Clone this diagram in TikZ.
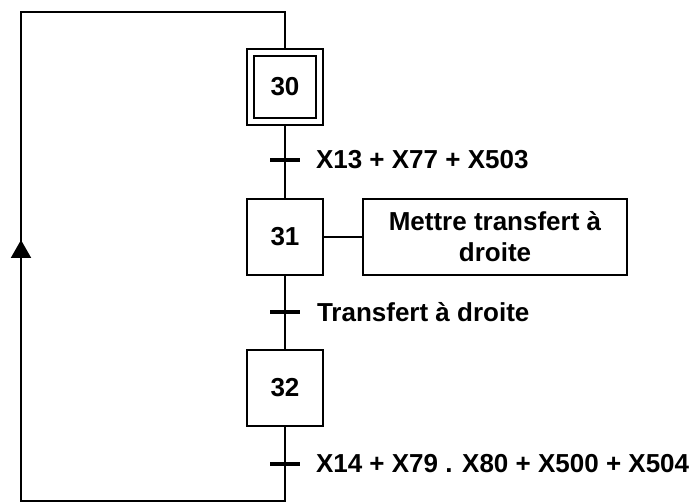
\documentclass[tikz,border=0pt]{standalone}
\usepackage{fontspec}
\setmainfont{Liberation Sans}
\usetikzlibrary{arrows.meta,positioning,calc}

\begin{document}
\begin{tikzpicture}[x=1pt,y=-1pt,line width=2pt,
    every node/.style={font=\fontsize{26}{31}\selectfont\bfseries},
    stepbox/.style={draw,rectangle,minimum width=76pt,minimum height=76pt,inner sep=0pt},
    initbox/.style={draw,rectangle,minimum width=62pt,minimum height=62pt,inner sep=0pt},
    actbox/.style={draw,rectangle,minimum width=264pt,minimum height=76pt,inner sep=0pt,align=center},
    trans/.style={fill=black,rectangle,minimum width=30pt,minimum height=4pt,inner sep=0pt},
    cond/.style={inner sep=0pt,anchor=west}]
  \useasboundingbox (0,0) rectangle (699,502);
  % steps
  \node[stepbox] (s30o) at (285,87) {};
  \node[initbox] (s30) at (s30o) {30};
  \node[stepbox] (s31) at (285,237) {31};
  \node[stepbox] (s32) at (285,388) {32};
  \node[actbox,right=38pt of s31] (a31) {Mettre transfert à\\droite};
  % transitions
  \node[trans] (t1) at (285,160) {};
  \node[trans] (t2) at (285,312) {};
  \node[trans] (t3) at (285,464) {};
  \node[cond,right=14pt of t1] (c1) {X13 + X77 + X503};
  \node[cond,right=15pt of t2] (c2) {Transfert à droite};
  \node[cond,right=14pt of t3] (c3) {X14 + X79 . X80 + X500 + X504};
  % links
  \coordinate (bl) at (21,501);
  \coordinate (tl) at (21,12);
  \coordinate (mid) at (21,240);
  \draw (s30o) -- (s31);
  \draw (s31) -- (s32);
  \draw (s31) -- (a31);
  \draw (s32.south) |- (bl) -- (tl) -| (s30o.north);
  \draw[-{Triangle[length=18pt,width=20pt]}] (bl) -- (mid);
\end{tikzpicture}
\end{document}
